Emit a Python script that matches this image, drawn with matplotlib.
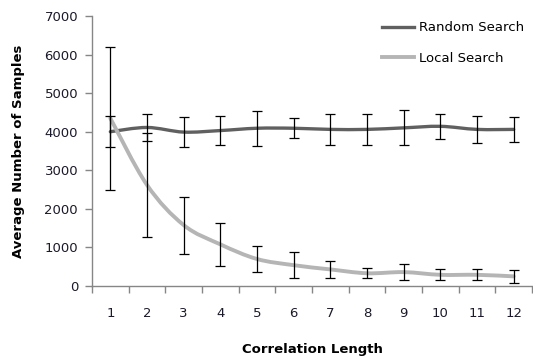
import numpy as np
import matplotlib
matplotlib.use("Agg")
import matplotlib.pyplot as plt
from matplotlib.path import Path
from matplotlib.patches import PathPatch
from matplotlib.lines import Line2D

plt.rcParams['font.family'] = ['DejaVu Sans']

corr_len = [1, 2, 3, 4, 5, 6, 7, 8, 9, 10, 11, 12]
random_mean = [4000, 4110, 3990, 4030, 4090, 4090, 4060, 4060, 4100, 4140, 4060, 4060]
random_err = [400, 350, 390, 380, 450, 260, 410, 410, 450, 330, 350, 320]
local_mean = [4350, 2620, 1580, 1080, 700, 540, 430, 330, 360, 290, 290, 250]
local_err = [1850, 1340, 740, 560, 330, 340, 210, 130, 210, 140, 140, 170]


def smooth_path(xs, ys):
    # excel-like smoothed line: catmull-rom turned into cubic beziers
    xs = np.asarray(xs, float)
    ys = np.asarray(ys, float)
    n = len(xs)
    verts = [(xs[0], ys[0])]
    codes = [Path.MOVETO]
    for i in range(n - 1):
        p0 = (xs[max(i - 1, 0)], ys[max(i - 1, 0)])
        p1 = (xs[i], ys[i])
        p2 = (xs[i + 1], ys[i + 1])
        p3 = (xs[min(i + 2, n - 1)], ys[min(i + 2, n - 1)])
        c1 = (p1[0] + (p2[0] - p0[0]) / 6, p1[1] + (p2[1] - p0[1]) / 6)
        c2 = (p2[0] - (p3[0] - p1[0]) / 6, p2[1] - (p3[1] - p1[1]) / 6)
        verts += [c1, c2, p2]
        codes += [Path.CURVE4] * 3
    return Path(verts, codes)


fig = plt.figure(figsize=(5.33, 3.58), dpi=100)
ax = fig.add_axes([92 / 533, 1 - 286 / 358, 440 / 533, 270 / 358])

for mean, err, col, lw in [(random_mean, random_err, '#606060', 2.4),
                           (local_mean, local_err, '#b5b5b5', 2.8)]:
    ax.add_patch(PathPatch(smooth_path(corr_len, mean), facecolor='none',
                           edgecolor=col, lw=lw, capstyle='round', zorder=2))
    ax.errorbar(corr_len, mean, yerr=err, fmt='none', ecolor='black',
                elinewidth=0.9, capsize=3.5, capthick=0.9, zorder=3)

ax.set_xlim(0.5, 12.5)
ax.set_ylim(0, 7000)
ax.set_xticks(corr_len)
ax.set_xticks(np.arange(0.5, 13, 1), minor=True)
ax.tick_params(axis='x', which='major', length=0, pad=15, labelsize=9.5,
               labelcolor='#1a1a2a')
ax.tick_params(axis='x', which='minor', length=5, color='#868686', width=1)
ax.set_yticks(range(0, 7001, 1000))
ax.tick_params(axis='y', length=5, color='#868686', width=1, labelsize=9.5,
               pad=5, labelcolor='#1a1a2a')
for s in ['top', 'right']:
    ax.spines[s].set_visible(False)
for s in ['left', 'bottom']:
    ax.spines[s].set_color('#868686')
    ax.spines[s].set_linewidth(1)

ax.set_xlabel('Correlation Length', fontsize=9.5, fontweight='bold', labelpad=17)
ax.set_ylabel('Average Number of Samples', fontsize=9.5, fontweight='bold', labelpad=14)

handles = [Line2D([], [], color='#606060', lw=2.4),
           Line2D([], [], color='#b5b5b5', lw=2.8)]
ax.legend(handles, ['Random Search', 'Local Search'], loc='upper left',
          bbox_to_anchor=(285 / 440, 1.0), frameon=False, fontsize=9.5,
          handlelength=2.4, handletextpad=0.35, labelspacing=1.35,
          borderaxespad=0)

fig.savefig('out.png', dpi=100)
